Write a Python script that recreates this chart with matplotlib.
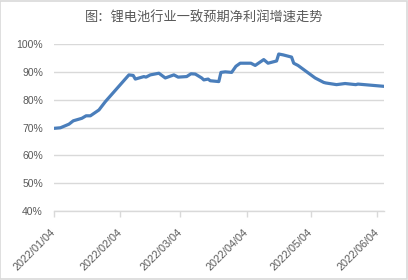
import matplotlib
matplotlib.use("Agg")
import matplotlib.pyplot as plt
import matplotlib.dates as mdates
import pandas as pd
from matplotlib.patches import Rectangle

# 一致预期净利润增速
dates = ["2022-01-04", "2022-01-07", "2022-01-11", "2022-01-13", "2022-01-17",
         "2022-01-19", "2022-01-21", "2022-01-25", "2022-01-28", "2022-02-08",
         "2022-02-10", "2022-02-11", "2022-02-15", "2022-02-16", "2022-02-18",
         "2022-02-22", "2022-02-25", "2022-03-01", "2022-03-03", "2022-03-07",
         "2022-03-09", "2022-03-11", "2022-03-14", "2022-03-15", "2022-03-17",
         "2022-03-18", "2022-03-22", "2022-03-23", "2022-03-25", "2022-03-28",
         "2022-03-30", "2022-04-01", "2022-04-06", "2022-04-08", "2022-04-12",
         "2022-04-14", "2022-04-18", "2022-04-19", "2022-04-21", "2022-04-25",
         "2022-04-26", "2022-04-28", "2022-05-06", "2022-05-10", "2022-05-11",
         "2022-05-16", "2022-05-20", "2022-05-25", "2022-05-26", "2022-06-07"]
growth = [69.7, 69.9, 71.2, 72.4, 73.3,
          74.2, 74.2, 76.3, 79.3, 88.9,
          88.7, 87.4, 88.3, 88.1, 88.9,
          89.5, 87.8, 88.9, 88.1, 88.3,
          89.3, 89.2, 87.8, 87.1, 87.4,
          86.8, 86.5, 89.8, 90.0, 89.8,
          92.0, 93.1, 93.1, 92.3, 94.4,
          93.1, 93.9, 96.4, 96.1, 95.3,
          93.1, 92.3, 87.8, 86.2, 86.0,
          85.4, 85.8, 85.4, 85.6, 84.8]

yticks = [40, 50, 60, 70, 80, 90, 100]
xtick_dates = ["2022-01-04", "2022-02-04", "2022-03-04", "2022-04-04", "2022-05-04", "2022-06-04"]
title = "图：锂电池行业一致预期净利润增速走势"

x = pd.to_datetime(dates)
grey = "#d9d9d9"
txt = "#595959"

fig = plt.figure(figsize=(4.08, 2.80), dpi=100)
fig.patches.append(Rectangle((0.001, 0.002), 0.997, 0.995, transform=fig.transFigure,
                             fill=False, edgecolor=grey, linewidth=1.2))
ax = fig.add_axes([54 / 408, 1 - 211 / 280, (383.6 - 54) / 408, (211 - 44) / 280])

ax.plot(x, growth, color="#4a7ebb", linewidth=2.3, solid_joinstyle="round")

ax.set_ylim(40, 100)
ax.set_yticks(yticks)
ax.set_yticklabels([f"{v}%" for v in yticks])
ax.set_xlim(pd.Timestamp("2022-01-04"), pd.Timestamp("2022-06-07"))
ax.set_xticks(pd.to_datetime(xtick_dates))
ax.xaxis.set_major_formatter(mdates.DateFormatter("%Y/%m/%d"))

ax.grid(axis="y", color=grey, linewidth=1.0)
ax.set_axisbelow(True)
for s in ["top", "right", "left"]:
    ax.spines[s].set_visible(False)
ax.spines["bottom"].set_color(grey)
ax.spines["bottom"].set_linewidth(1.0)
ax.tick_params(axis="y", length=0, pad=8, labelsize=7.5, labelcolor=txt)
ax.tick_params(axis="x", length=4, width=1.0, color=grey, pad=10, labelsize=7.8, labelcolor=txt)
for lab in ax.get_yticklabels() + ax.get_xticklabels():
    lab.set_family("Liberation Sans")
for lab in ax.get_xticklabels():
    lab.set_rotation(45)
    lab.set_ha("right")
    lab.set_va("center")
    lab.set_rotation_mode("anchor")

fig.text(0.5, 1 - 18 / 280, title, ha="center", va="center", fontsize=9.5,
         color=txt, family=["Noto Sans CJK SC", "DejaVu Sans"])

fig.savefig("out.png", dpi=100)
